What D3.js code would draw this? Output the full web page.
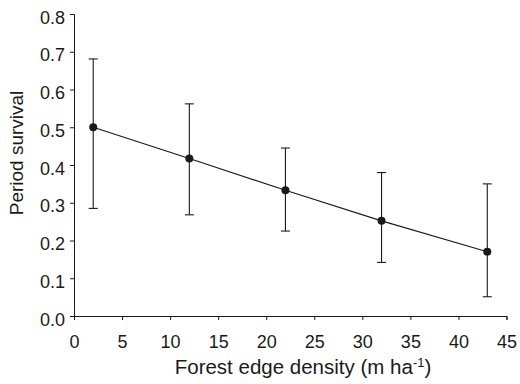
<!DOCTYPE html>
<html>
<meta charset="utf-8">
<head>
<style>
  body { margin: 0; background: #fff; }
  svg { display: block; font-family: "Liberation Sans", Arial, sans-serif; }
</style>
<script src="https://d3js.org/d3.v7.min.js"></script>
</head>
<body>
<svg></svg>
<script>
// values
var edgeDensity = [2, 12, 22, 32, 43];
var survival = [0.50, 0.417, 0.333, 0.252, 0.170];
var upperCI = [0.681, 0.562, 0.445, 0.380, 0.350];
var lowerCI = [0.285, 0.268, 0.225, 0.142, 0.051];
var xTicks = [0, 5, 10, 15, 20, 25, 30, 35, 40, 45];
var yTicks = [0, 0.1, 0.2, 0.3, 0.4, 0.5, 0.6, 0.7, 0.8];

var width = 520, height = 384;
var ink = "#1a1a1a";

var svg = d3.select("svg")
    .attr("width", width)
    .attr("height", height);

var x = d3.scaleLinear().domain([0, 45]).range([74, 506.5]);
var y = d3.scaleLinear().domain([0, 0.8]).range([316, 14]);

// axes
var xAxis = svg.append("g")
    .attr("transform", "translate(0," + y(0) + ")")
    .call(d3.axisBottom(x).tickValues(xTicks).tickSize(4).tickSizeOuter(4).tickPadding(15)
        .tickFormat(d3.format("d")));
var yAxis = svg.append("g")
    .attr("transform", "translate(" + x(0) + ",0)")
    .call(d3.axisLeft(y).tickValues(yTicks).tickSize(4).tickSizeOuter(4).tickPadding(5)
        .tickFormat(d3.format(".1f")));

[xAxis, yAxis].forEach(function(a) {
    a.selectAll("path, line").attr("stroke", ink).attr("stroke-width", 1);
    a.selectAll("text")
        .attr("fill", ink)
        .attr("font-size", "18px")
        .attr("font-family", "\"Liberation Sans\", Arial, sans-serif");
});
xAxis.selectAll("text").attr("dy", "0");
xAxis.selectAll("text").attr("y", 32);
yAxis.selectAll("text").attr("dy", "0.5em");

// axis titles
svg.append("text")
    .attr("transform", "translate(23,153) rotate(-90)")
    .attr("text-anchor", "middle")
    .attr("font-size", "19px")
    .attr("fill", ink)
    .text("Period survival");

var xt = svg.append("text")
    .attr("x", 303)
    .attr("y", 374)
    .attr("text-anchor", "middle")
    .attr("font-size", "20.5px")
    .attr("fill", ink);
xt.append("tspan").text("Forest edge density (m ha");
xt.append("tspan").attr("dy", "-7").attr("font-size", "13px").text("-1");
xt.append("tspan").attr("dy", "7").text(")");

// error bars
var bars = svg.append("g")
    .selectAll("g")
    .data(edgeDensity)
    .enter().append("g")
    .attr("stroke", ink)
    .attr("stroke-width", 1.1);
bars.append("line")
    .attr("x1", d => x(d)).attr("x2", d => x(d))
    .attr("y1", (d, i) => y(upperCI[i]))
    .attr("y2", (d, i) => y(lowerCI[i]));
bars.append("line")
    .attr("x1", d => x(d) - 4.5).attr("x2", d => x(d) + 4.5)
    .attr("y1", (d, i) => y(upperCI[i]))
    .attr("y2", (d, i) => y(upperCI[i]));
bars.append("line")
    .attr("x1", d => x(d) - 4.5).attr("x2", d => x(d) + 4.5)
    .attr("y1", (d, i) => y(lowerCI[i]))
    .attr("y2", (d, i) => y(lowerCI[i]));

// fitted line
var line = d3.line()
    .x(d => x(d))
    .y((d, i) => y(survival[i]));
svg.append("path")
    .datum(edgeDensity)
    .attr("d", line)
    .attr("fill", "none")
    .attr("stroke", ink)
    .attr("stroke-width", 1.1);

// points
svg.append("g")
    .selectAll("circle")
    .data(edgeDensity)
    .enter().append("circle")
    .attr("cx", d => x(d))
    .attr("cy", (d, i) => y(survival[i]))
    .attr("r", 4)
    .attr("fill", ink);
</script>
</body>
</html>
